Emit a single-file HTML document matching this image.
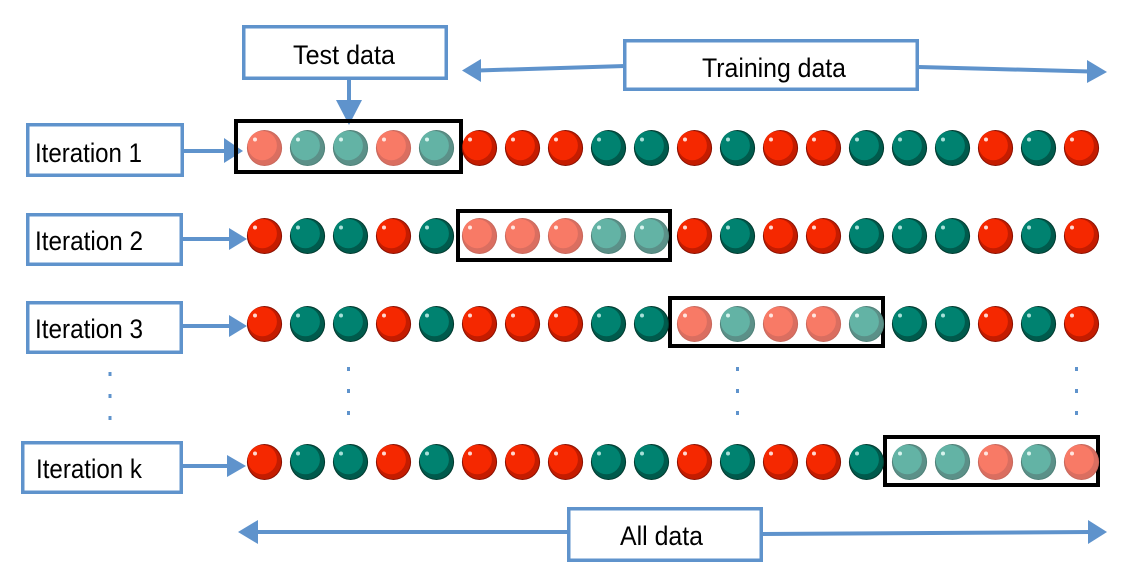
<!DOCTYPE html>
<html><head><meta charset="utf-8"><style>
html,body{margin:0;padding:0;background:#fff;}
svg{display:block;}
text{font-family:"Liberation Sans",Arial,sans-serif;fill:#000;}
</style></head><body>
<svg width="1126" height="579" viewBox="0 0 1126 579" xmlns="http://www.w3.org/2000/svg">
<defs>
<g id="R"><ellipse rx="17.6" ry="18" fill="#8a1000"/><ellipse rx="16.6" ry="17" fill="#c41c00"/><circle cx="-2.2" cy="-2.4" r="14.6" fill="#f52800"/><circle cx="-9.5" cy="-8.5" r="2" fill="#ffd8d0"/></g>
<g id="G"><ellipse rx="17.6" ry="18" fill="#00392e"/><ellipse rx="16.6" ry="17" fill="#005a4c"/><circle cx="-2.2" cy="-2.4" r="14.6" fill="#008270"/><circle cx="-9.5" cy="-8.5" r="2" fill="#a8e0d8"/></g>
<g id="r"><ellipse rx="17.6" ry="18" fill="#c8685c"/><ellipse rx="16.6" ry="17" fill="#da6e60"/><circle cx="-2.2" cy="-2.4" r="14.6" fill="#f87a66"/><circle cx="-9.5" cy="-8.5" r="2" fill="#ffe6e0"/></g>
<g id="g"><ellipse rx="17.6" ry="18" fill="#4f8178"/><ellipse rx="16.6" ry="17" fill="#5b9088"/><circle cx="-2.2" cy="-2.4" r="14.6" fill="#63b3a5"/><circle cx="-9.5" cy="-8.5" r="2" fill="#d8f4ee"/></g>
</defs>

<!-- blue label boxes -->
<g fill="#fff" stroke="#5f93cc" stroke-width="3.5">
<rect x="243.75" y="26.75" width="202.5" height="51.5"/>
<rect x="624.75" y="40.75" width="292.5" height="48.5"/>
<rect x="568.75" y="508.75" width="192.5" height="51.5"/>
<rect x="27.75" y="124.75" width="154.5" height="50.5"/>
<rect x="27.75" y="214.75" width="153.5" height="49.5"/>
<rect x="27.75" y="302.75" width="153.5" height="49.5"/>
<rect x="22.75" y="442.75" width="158.5" height="49.5"/>
</g>

<g font-size="26.5">
<text x="293" y="64" textLength="102" lengthAdjust="spacingAndGlyphs">Test data</text>
<text x="702" y="77" textLength="144" lengthAdjust="spacingAndGlyphs">Training data</text>
<text x="620" y="545" textLength="83" lengthAdjust="spacingAndGlyphs">All data</text>
<text x="35" y="162" textLength="107" lengthAdjust="spacingAndGlyphs">Iteration 1</text>
<text x="35" y="250" textLength="108" lengthAdjust="spacingAndGlyphs">Iteration 2</text>
<text x="35" y="338" textLength="108" lengthAdjust="spacingAndGlyphs">Iteration 3</text>
<text x="36" y="478" textLength="106" lengthAdjust="spacingAndGlyphs">Iteration k</text>
</g>

<!-- connectors -->
<g stroke="#5f93cc" stroke-width="4" fill="none">
<line x1="349" y1="80" x2="349" y2="102"/>
<line x1="184" y1="151" x2="226" y2="151"/>
<line x1="183" y1="239" x2="230" y2="239"/>
<line x1="183" y1="326" x2="230" y2="326"/>
<line x1="183" y1="466" x2="228" y2="466"/>
<line x1="625" y1="66" x2="478" y2="70.5"/>
<line x1="919" y1="67" x2="1090" y2="71.5"/>
<line x1="568" y1="532" x2="255" y2="532"/>
<line x1="763" y1="534" x2="1090" y2="532"/>
</g>
<g fill="#5f93cc">
<polygon points="336,100 362,100 349,125"/>
<polygon points="224,138 243,151 224,163"/>
<polygon points="229,228 247,239 229,250"/>
<polygon points="229,315 247,326 229,337"/>
<polygon points="227,455 246,466 227,477"/>
<polygon points="481,59 462,70.5 481,82"/>
<polygon points="1087,60 1107,72 1087,83"/>
<polygon points="258,520 238,532 258,544"/>
<polygon points="1088,520 1107,532 1088,544"/>
<!-- dots -->
<rect x="108.5" y="372" width="3" height="4"/><rect x="108.5" y="394" width="3" height="4"/><rect x="108.5" y="416" width="3" height="4"/>
<rect x="347" y="367" width="3" height="4"/><rect x="347" y="389" width="3" height="4"/><rect x="347" y="411" width="3" height="4"/>
<rect x="736" y="367" width="3" height="4"/><rect x="736" y="389" width="3" height="4"/><rect x="736" y="411" width="3" height="4"/>
<rect x="1075" y="367" width="3" height="4"/><rect x="1075" y="389" width="3" height="4"/><rect x="1075" y="411" width="3" height="4"/>
</g>

<!-- black test boxes -->
<g fill="none" stroke="#000" stroke-width="4">
<rect x="236" y="121" width="225" height="51"/>
<rect x="458" y="211" width="212" height="49"/>
<rect x="670" y="298" width="213" height="48"/>
<rect x="885" y="437" width="213" height="48"/>
</g>

<!-- Row 1 -->
<g transform="translate(0,148)">
<use href="#r" x="264.5"/><use href="#g" x="307.5"/><use href="#g" x="350.5"/><use href="#r" x="393.5"/><use href="#g" x="436.5"/>
<use href="#R" x="479.5"/><use href="#R" x="522.5"/><use href="#R" x="565.5"/><use href="#G" x="608.5"/><use href="#G" x="651.5"/>
<use href="#R" x="694.5"/><use href="#G" x="737.5"/><use href="#R" x="780.5"/><use href="#R" x="823.5"/><use href="#G" x="866.5"/>
<use href="#G" x="909.5"/><use href="#G" x="952.5"/><use href="#R" x="995.5"/><use href="#G" x="1038.5"/><use href="#R" x="1081.5"/>
</g>
<!-- Row 2 -->
<g transform="translate(0,236)">
<use href="#R" x="264.5"/><use href="#G" x="307.5"/><use href="#G" x="350.5"/><use href="#R" x="393.5"/><use href="#G" x="436.5"/>
<use href="#r" x="479.5"/><use href="#r" x="522.5"/><use href="#r" x="565.5"/><use href="#g" x="608.5"/><use href="#g" x="651.5"/>
<use href="#R" x="694.5"/><use href="#G" x="737.5"/><use href="#R" x="780.5"/><use href="#R" x="823.5"/><use href="#G" x="866.5"/>
<use href="#G" x="909.5"/><use href="#G" x="952.5"/><use href="#R" x="995.5"/><use href="#G" x="1038.5"/><use href="#R" x="1081.5"/>
</g>
<!-- Row 3 -->
<g transform="translate(0,324)">
<use href="#R" x="264.5"/><use href="#G" x="307.5"/><use href="#G" x="350.5"/><use href="#R" x="393.5"/><use href="#G" x="436.5"/>
<use href="#R" x="479.5"/><use href="#R" x="522.5"/><use href="#R" x="565.5"/><use href="#G" x="608.5"/><use href="#G" x="651.5"/>
<use href="#r" x="694.5"/><use href="#g" x="737.5"/><use href="#r" x="780.5"/><use href="#r" x="823.5"/><use href="#g" x="866.5"/>
<use href="#G" x="909.5"/><use href="#G" x="952.5"/><use href="#R" x="995.5"/><use href="#G" x="1038.5"/><use href="#R" x="1081.5"/>
</g>
<!-- Row k -->
<g transform="translate(0,462)">
<use href="#R" x="264.5"/><use href="#G" x="307.5"/><use href="#G" x="350.5"/><use href="#R" x="393.5"/><use href="#G" x="436.5"/>
<use href="#R" x="479.5"/><use href="#R" x="522.5"/><use href="#R" x="565.5"/><use href="#G" x="608.5"/><use href="#G" x="651.5"/>
<use href="#R" x="694.5"/><use href="#G" x="737.5"/><use href="#R" x="780.5"/><use href="#R" x="823.5"/><use href="#G" x="866.5"/>
<use href="#g" x="909.5"/><use href="#g" x="952.5"/><use href="#r" x="995.5"/><use href="#g" x="1038.5"/><use href="#r" x="1081.5"/>
</g>
</svg>
</body></html>
